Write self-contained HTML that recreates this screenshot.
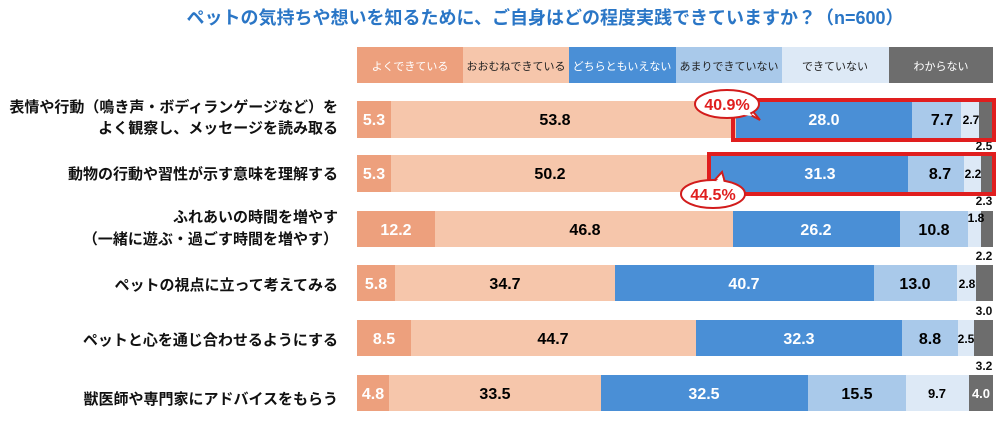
<!DOCTYPE html>
<html><head><meta charset="utf-8"><style>
body{margin:0;width:1000px;height:421px;background:#fff;overflow:hidden;font-family:"Liberation Sans","Noto Sans CJK JP",sans-serif;}
svg text{font-family:"Liberation Sans","Noto Sans CJK JP",sans-serif;}
</style></head><body>
<svg width="1000" height="421" xmlns="http://www.w3.org/2000/svg">
<text x="545" y="24" text-anchor="middle" font-size="18" font-weight="bold" fill="#2a76c6">ペットの気持ちや想いを知るために、ご自身はどの程度実践できていますか？（n=600）</text>
<g font-size="11">
<rect x="357" y="47" width="106" height="36" fill="#eda07d"/><text x="410" y="70" text-anchor="middle" fill="#fff">よくできている</text>
<rect x="463" y="47" width="106" height="36" fill="#f6c6ab"/><text x="516" y="70" text-anchor="middle" fill="#222">おおむねできている</text>
<rect x="569" y="47" width="107" height="36" fill="#4a8fd6"/><text x="622" y="70" text-anchor="middle" fill="#fff">どちらともいえない</text>
<rect x="676" y="47" width="106" height="36" fill="#a9c9ea"/><text x="729" y="70" text-anchor="middle" fill="#222">あまりできていない</text>
<rect x="782" y="47" width="107" height="36" fill="#dde9f6"/><text x="835" y="70" text-anchor="middle" fill="#222">できていない</text>
<rect x="889" y="47" width="104" height="36" fill="#6d6d6d"/><text x="941" y="70" text-anchor="middle" fill="#fff">わからない</text>
</g>
<g font-size="15" font-weight="bold" fill="#111" text-anchor="end">
<text x="338" y="112">表情や行動（鳴き声・ボディランゲージなど）を</text>
<text x="338" y="133">よく観察し、メッセージを読み取る</text>
<text x="338" y="179">動物の行動や習性が示す意味を理解する</text>
<text x="338" y="222">ふれあいの時間を増やす</text>
<text x="338" y="244">（一緒に遊ぶ・過ごす時間を増やす）</text>
<text x="338" y="290">ペットの視点に立って考えてみる</text>
<text x="338" y="345">ペットと心を通じ合わせるようにする</text>
<text x="338" y="404">獣医師や専門家にアドバイスをもらう</text>
</g>
<g id="bars" font-size="16" font-weight="bold">
<rect x="357" y="101" width="34" height="37" fill="#eda07d"/><rect x="391" y="101" width="345" height="37" fill="#f6c6ab"/><rect x="736" y="101" width="176" height="37" fill="#4a8fd6"/><rect x="912" y="101" width="49" height="37" fill="#a9c9ea"/><rect x="961" y="101" width="18" height="37" fill="#dde9f6"/><rect x="979" y="101" width="14" height="37" fill="#6d6d6d"/>
<text x="374" y="125" text-anchor="middle" fill="#fff">5.3</text><text x="555" y="125" text-anchor="middle">53.8</text><text x="824" y="125" text-anchor="middle" fill="#fff">28.0</text><text x="942" y="125" text-anchor="middle">7.7</text><text x="971" y="124" text-anchor="middle" font-size="12">2.7</text>
<rect x="357" y="155" width="34" height="37" fill="#eda07d"/><rect x="391" y="155" width="320" height="37" fill="#f6c6ab"/><rect x="711" y="155" width="197" height="37" fill="#4a8fd6"/><rect x="908" y="155" width="56" height="37" fill="#a9c9ea"/><rect x="964" y="155" width="17" height="37" fill="#dde9f6"/><rect x="981" y="155" width="12" height="37" fill="#6d6d6d"/>
<text x="374" y="179" text-anchor="middle" fill="#fff">5.3</text><text x="550" y="179" text-anchor="middle">50.2</text><text x="820" y="179" text-anchor="middle" fill="#fff">31.3</text><text x="940" y="179" text-anchor="middle">8.7</text><text x="973" y="178" text-anchor="middle" font-size="12">2.2</text>
<rect x="357" y="211" width="78" height="36" fill="#eda07d"/><rect x="435" y="211" width="298" height="36" fill="#f6c6ab"/><rect x="733" y="211" width="167" height="36" fill="#4a8fd6"/><rect x="900" y="211" width="68" height="36" fill="#a9c9ea"/><rect x="968" y="211" width="13" height="36" fill="#dde9f6"/><rect x="981" y="211" width="12" height="36" fill="#6d6d6d"/>
<text x="396" y="235" text-anchor="middle" fill="#fff">12.2</text><text x="585" y="235" text-anchor="middle">46.8</text><text x="816" y="235" text-anchor="middle" fill="#fff">26.2</text><text x="934" y="235" text-anchor="middle">10.8</text><text x="976" y="222" text-anchor="middle" font-size="12">1.8</text>
<rect x="357" y="265" width="38" height="36" fill="#eda07d"/><rect x="395" y="265" width="220" height="36" fill="#f6c6ab"/><rect x="615" y="265" width="259" height="36" fill="#4a8fd6"/><rect x="874" y="265" width="83" height="36" fill="#a9c9ea"/><rect x="957" y="265" width="19" height="36" fill="#dde9f6"/><rect x="976" y="265" width="17" height="36" fill="#6d6d6d"/>
<text x="376" y="289" text-anchor="middle" fill="#fff">5.8</text><text x="505" y="289" text-anchor="middle">34.7</text><text x="744" y="289" text-anchor="middle" fill="#fff">40.7</text><text x="915" y="289" text-anchor="middle">13.0</text><text x="967" y="288" text-anchor="middle" font-size="12">2.8</text>
<rect x="357" y="320" width="54" height="36" fill="#eda07d"/><rect x="411" y="320" width="285" height="36" fill="#f6c6ab"/><rect x="696" y="320" width="206" height="36" fill="#4a8fd6"/><rect x="902" y="320" width="56" height="36" fill="#a9c9ea"/><rect x="958" y="320" width="16" height="36" fill="#dde9f6"/><rect x="974" y="320" width="19" height="36" fill="#6d6d6d"/>
<text x="384" y="344" text-anchor="middle" fill="#fff">8.5</text><text x="553" y="344" text-anchor="middle">44.7</text><text x="799" y="344" text-anchor="middle" fill="#fff">32.3</text><text x="930" y="344" text-anchor="middle">8.8</text><text x="966" y="343" text-anchor="middle" font-size="12">2.5</text>
<rect x="357" y="375" width="32" height="36" fill="#eda07d"/><rect x="389" y="375" width="212" height="36" fill="#f6c6ab"/><rect x="601" y="375" width="207" height="36" fill="#4a8fd6"/><rect x="808" y="375" width="98" height="36" fill="#a9c9ea"/><rect x="906" y="375" width="63" height="36" fill="#dde9f6"/><rect x="969" y="375" width="24" height="36" fill="#6d6d6d"/>
<text x="373" y="399" text-anchor="middle" fill="#fff">4.8</text><text x="495" y="399" text-anchor="middle">33.5</text><text x="704" y="399" text-anchor="middle" fill="#fff">32.5</text><text x="857" y="399" text-anchor="middle">15.5</text><text x="937" y="398" text-anchor="middle" font-size="13">9.7</text><text x="981" y="398" text-anchor="middle" font-size="13" fill="#fff">4.0</text>
</g>
<g font-size="12" font-weight="bold" fill="#111" text-anchor="middle">
<text x="984" y="150">2.5</text><text x="984" y="205">2.3</text><text x="984" y="260">2.2</text><text x="984" y="315">3.0</text><text x="984" y="370">3.2</text>
</g>
<rect x="733" y="100" width="261" height="40" fill="none" stroke="#e01e1e" stroke-width="4"/>
<rect x="709" y="154" width="285" height="40" fill="none" stroke="#e01e1e" stroke-width="4"/>
<g font-size="16" font-weight="bold" fill="#e01e1e" text-anchor="middle">
<path d="M745 112 L760 120 L750 108 Z" fill="#fff" stroke="#d21c1c" stroke-width="2"/>
<ellipse cx="727" cy="104" rx="32" ry="14" fill="#fff" stroke="#d21c1c" stroke-width="2"/>
<path d="M744 115 L752 116 L748 110 Z" fill="#fff"/>
<text x="727" y="110">40.9%</text>
<path d="M712 183 L722 172 L726 186 Z" fill="#fff" stroke="#d21c1c" stroke-width="2"/>
<ellipse cx="713" cy="194" rx="32" ry="14" fill="#fff" stroke="#d21c1c" stroke-width="2"/>
<path d="M716 181 L722 176 L724 183 Z" fill="#fff"/>
<text x="713" y="200">44.5%</text>
</g>
</svg>
</body></html>
